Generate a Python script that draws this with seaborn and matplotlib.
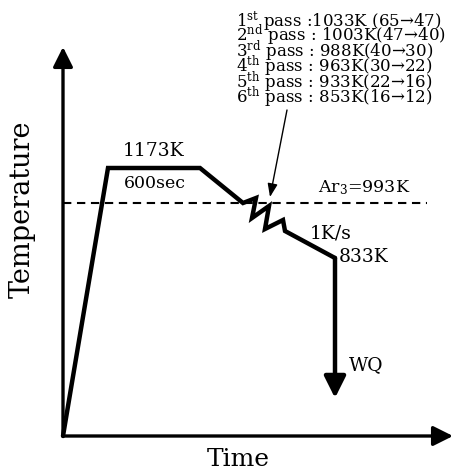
import matplotlib
matplotlib.use("Agg")
import matplotlib.pyplot as plt
import seaborn as sns
import pandas as pd

# ---- schematic data (arbitrary time / temperature units) ----
path_time = [0, 45, 137, 180, 193, 189, 206, 202, 220, 222, 272]
path_temp = [0, 268, 268, 233, 238, 218, 230, 207, 216, 205, 178]
wq_end_temp = 38            # water-quench arrow end
ar3_temp = 233              # Ar3 line level
ar3_time_end = 364
axis_time_max = 390
axis_temp_max = 389

pass_labels = [
    r"1$^{\mathrm{st}}$ pass :1033K (65→47)",
    r"2$^{\mathrm{nd}}$ pass : 1003K(47→40)",
    r"3$^{\mathrm{rd}}$ pass : 988K(40→30)",
    r"4$^{\mathrm{th}}$ pass : 963K(30→22)",
    r"5$^{\mathrm{th}}$ pass : 933K(22→16)",
    r"6$^{\mathrm{th}}$ pass : 853K(16→12)",
]
label_hold_temp = "1173K"
label_hold_time = "600sec"
label_ar3 = r"Ar$_{3}$=993K"
label_rate = "1K/s"
label_finish = "833K"
label_wq = "WQ"
xlabel = "Time"
ylabel = "Temperature"

sns.set_theme(style="white")
plt.rcParams["font.family"] = ["DejaVu Serif"]
plt.rcParams["mathtext.fontset"] = "dejavuserif"
plt.rcParams["text.color"] = "black"

fig = plt.figure(figsize=(4.54, 4.71), dpi=100)
ax = fig.add_axes([0, 0, 1, 1])
ax.set_xlim(-63, 391)
ax.set_ylim(-35, 436)
ax.axis("off")

# axes with arrows
ax.annotate("", xy=(0, axis_temp_max), xytext=(0, 0),
            arrowprops=dict(arrowstyle="-|>,head_length=1.0,head_width=0.5",
                            mutation_scale=12, lw=2.4, color="black",
                            shrinkA=0, shrinkB=0))
ax.annotate("", xy=(axis_time_max, 0), xytext=(0, 0),
            arrowprops=dict(arrowstyle="-|>,head_length=1.0,head_width=0.5",
                            mutation_scale=12, lw=2.4, color="black",
                            shrinkA=0, shrinkB=0))

# Ar3 dashed line
ax.plot([0, ar3_time_end], [ar3_temp, ar3_temp], color="black", lw=1.5,
        linestyle=(0, (4, 2.7)))

# thermal path
df = pd.DataFrame({"time": path_time, "temp": path_temp})
sns.lineplot(data=df, x="time", y="temp", sort=False, estimator=None,
             color="black", linewidth=3.2, ax=ax)
ax.lines[-1].set_solid_joinstyle("miter")
ax.annotate("", xy=(path_time[-1], wq_end_temp), xytext=(path_time[-1], path_temp[-1]),
            arrowprops=dict(arrowstyle="-|>,head_length=1.0,head_width=0.5",
                            mutation_scale=13, lw=3.2, color="black",
                            shrinkA=0, shrinkB=0))
ax.set_xlabel("")
ax.set_ylabel("")

# pass schedule text: one block with tight line spacing, as in the reference
ax.text(173, 427, "\n".join(pass_labels), fontsize=12, ha="left", va="top",
        linespacing=0.465)

# pointer arrow to the zigzag
ax.annotate("", xy=(207, 239), xytext=(224, 326),
            arrowprops=dict(arrowstyle="-|>,head_length=0.8,head_width=0.3",
                            mutation_scale=10, lw=1.0, color="black",
                            shrinkA=0, shrinkB=0))

ax.text(91, 285, label_hold_temp, fontsize=13.5, ha="center", va="center")
ax.text(92, 252, label_hold_time, fontsize=12.5, ha="center", va="center")
ax.text(301, 248, label_ar3, fontsize=12.5, ha="center", va="center")
ax.text(268, 203, label_rate, fontsize=13.5, ha="center", va="center")
ax.text(301, 179, label_finish, fontsize=13.5, ha="center", va="center")
ax.text(303, 71, label_wq, fontsize=13.5, ha="center", va="center")
ax.text(175, -23, xlabel, fontsize=18, ha="center", va="center")
ax.text(-41, 227, ylabel, fontsize=19.5, ha="center", va="center", rotation=90)

fig.savefig("out.png", dpi=100)
